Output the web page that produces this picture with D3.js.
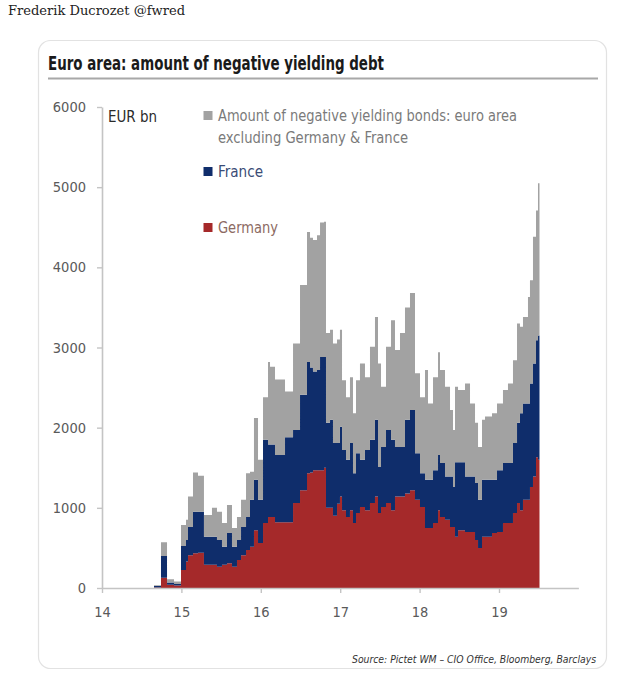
<!DOCTYPE html>
<html><head><meta charset="utf-8">
<script src="https://cdn.jsdelivr.net/npm/d3@7"></script>
<style>body{margin:0;background:#fff}svg{display:block}</style>
</head><body><svg id="c" width="617" height="684"></svg>
<script>
// Decimal years (e.g. 16.5 = mid-2016), EUR bn
const dates = [14.655,14.743,14.819,14.907,14.995,15.058,15.083,15.146,15.209,15.284,15.385,15.448,15.511,15.574,15.637,15.700,15.751,15.814,15.864,15.914,15.965,16.028,16.091,16.116,16.179,16.305,16.406,16.494,16.582,16.620,16.657,16.708,16.746,16.796,16.821,16.872,16.909,16.960,16.997,17.023,17.073,17.123,17.161,17.199,17.249,17.312,17.375,17.438,17.476,17.514,17.577,17.640,17.690,17.753,17.816,17.879,17.942,18.005,18.068,18.106,18.169,18.232,18.257,18.320,18.383,18.421,18.446,18.484,18.572,18.635,18.698,18.736,18.786,18.824,18.912,18.975,19.050,19.113,19.176,19.227,19.264,19.302,19.365,19.390,19.428,19.466,19.491,19.510];
const germany = [5,128,40,30,225,330,410,435,440,290,290,265,290,310,265,350,410,475,515,720,560,810,885,885,820,820,1060,1220,1430,1440,1470,1470,1470,1500,1000,1000,900,1050,1140,970,885,970,810,935,1010,970,1060,1140,935,1010,1060,970,1140,1140,1180,1220,1100,1010,750,750,810,970,885,850,760,760,640,720,700,700,600,500,640,640,685,700,810,810,935,1060,970,1100,1100,1260,1390,1630,1600,1600];
const france = [20,272,30,20,300,270,350,515,510,350,350,335,225,375,250,250,350,410,585,630,540,1040,905,905,840,1060,910,1190,1390,1310,1230,1250,1410,1380,1060,1100,910,760,870,750,715,840,620,745,590,750,790,960,575,750,910,880,620,620,920,1000,580,420,600,600,660,690,675,540,630,500,930,850,690,690,710,600,710,710,665,770,750,750,875,1000,1210,1200,1200,1290,1410,1460,1550,1550];
const other = [10,170,40,30,260,250,380,490,450,270,360,350,295,350,235,285,340,545,350,770,500,530,1030,970,940,570,1080,1370,1620,1620,1640,1680,1680,1690,1120,1120,1240,1290,1210,870,780,820,750,910,1200,910,1160,1280,1290,750,1040,1490,1210,1420,1400,1460,1000,950,1370,950,1160,1280,1160,1120,830,710,940,900,1160,910,750,660,750,790,830,830,910,990,1030,1240,1080,1080,1330,1290,1580,1620,1900,1900];

const yTicks = [0,1000,2000,3000,4000,5000,6000];
const xTicks = [14,15,16,17,18,19];
const seriesKeys = ["germany","france","other"];
const seriesColors = ["#a5292a","#0f2d6b","#a2a2a2"];
const legendLabels = [["Amount of negative yielding bonds: euro area","excluding Germany & France"],["France"],["Germany"]];

const rows = dates.map((d,i)=>({date:d, germany:germany[i], france:france[i], other:other[i]}));

const svg = d3.select("#c");
const condensed = "'Liberation Sans Narrow','Arial Narrow','DejaVu Sans Condensed','Liberation Sans',Arial,sans-serif";

// header
svg.append("text").attr("x",8).attr("y",15)
  .attr("font-family","'DejaVu Serif','Liberation Serif',serif").attr("font-size",13.5)
  .attr("fill","#222").attr("textLength",177).attr("lengthAdjust","spacingAndGlyphs")
  .text("Frederik Ducrozet @fwred");

// card
svg.append("rect").attr("x",38.5).attr("y",40.5).attr("width",568).attr("height",628)
  .attr("rx",12).attr("fill","#fff").attr("stroke","#e2e2e2").attr("stroke-width",1.2);

// title
svg.append("text").attr("x",48).attr("y",70)
  .attr("font-family",condensed).attr("font-weight","bold").attr("font-size",19)
  .attr("fill","#1a1a1a").attr("textLength",336).attr("lengthAdjust","spacingAndGlyphs")
  .text("Euro area: amount of negative yielding debt");
svg.append("line").attr("x1",48).attr("x2",598).attr("y1",78.5).attr("y2",78.5)
  .attr("stroke","#a8a8a8").attr("stroke-width",2);

// scales
const x = d3.scaleLinear().domain([14,20]).range([102,578.4]);
const y = d3.scaleLinear().domain([0,6000]).range([588,107]);

// stacked areas
const stack = d3.stack().keys(seriesKeys)(rows);
const area = d3.area().curve(d3.curveStepAfter)
  .x(d=>x(d.data.date)).y0(d=>y(d[0])).y1(d=>y(d[1]));
svg.append("g").selectAll("path").data(stack).join("path")
  .attr("d",area).attr("fill",(d,i)=>seriesColors[i]);

// axes
const yAxis = svg.append("g").attr("transform","translate(102,0)")
  .call(d3.axisLeft(y).tickValues(yTicks).tickSize(5).tickSizeOuter(0).tickPadding(11).tickFormat(d3.format("d")));
const xAxis = svg.append("g").attr("transform","translate(0,588)")
  .call(d3.axisBottom(x).tickValues(xTicks).tickSize(5).tickSizeOuter(0).tickPadding(14).tickFormat(d3.format("d")));
[yAxis,xAxis].forEach(g=>{
  g.select(".domain").attr("stroke","#c4c4c4").attr("stroke-width",1.6);
  g.selectAll(".tick line").attr("stroke","#c4c4c4").attr("stroke-width",1.4);
  g.selectAll(".tick text").attr("fill","#5a5a5a").attr("font-size",14.5).attr("font-family",condensed);
});

// unit label
svg.append("text").attr("x",108).attr("y",122)
  .attr("font-family",condensed).attr("font-size",15.5).attr("fill","#2a2a2a")
  .attr("textLength",49).attr("lengthAdjust","spacingAndGlyphs").text("EUR bn");

// legend
const legendY = [111,167,223];
const legendText = ["#7a7a7a","#3a4c76","#8c6a62"];
const legendLen = [[299,190],[45],[60]];
const legendOrder = [2,1,0];
legendOrder.forEach((si,k)=>{
  svg.append("rect").attr("x",203.5).attr("y",legendY[k]).attr("width",9).attr("height",9)
    .attr("fill",seriesColors[si]);
  legendLabels[k].forEach((line,j)=>{
    svg.append("text").attr("x",218).attr("y",legendY[k]+10+j*22)
      .attr("font-family",condensed).attr("font-size",16).attr("fill",legendText[k])
      .attr("textLength",legendLen[k][j]).attr("lengthAdjust","spacingAndGlyphs").text(line);
  });
});

// source
svg.append("text").attr("x",352).attr("y",663)
  .attr("font-family",condensed).attr("font-style","italic").attr("font-size",10).attr("fill","#333")
  .attr("textLength",244).attr("lengthAdjust","spacingAndGlyphs")
  .text("Source: Pictet WM – CIO Office, Bloomberg, Barclays");
</script>
</body></html>
